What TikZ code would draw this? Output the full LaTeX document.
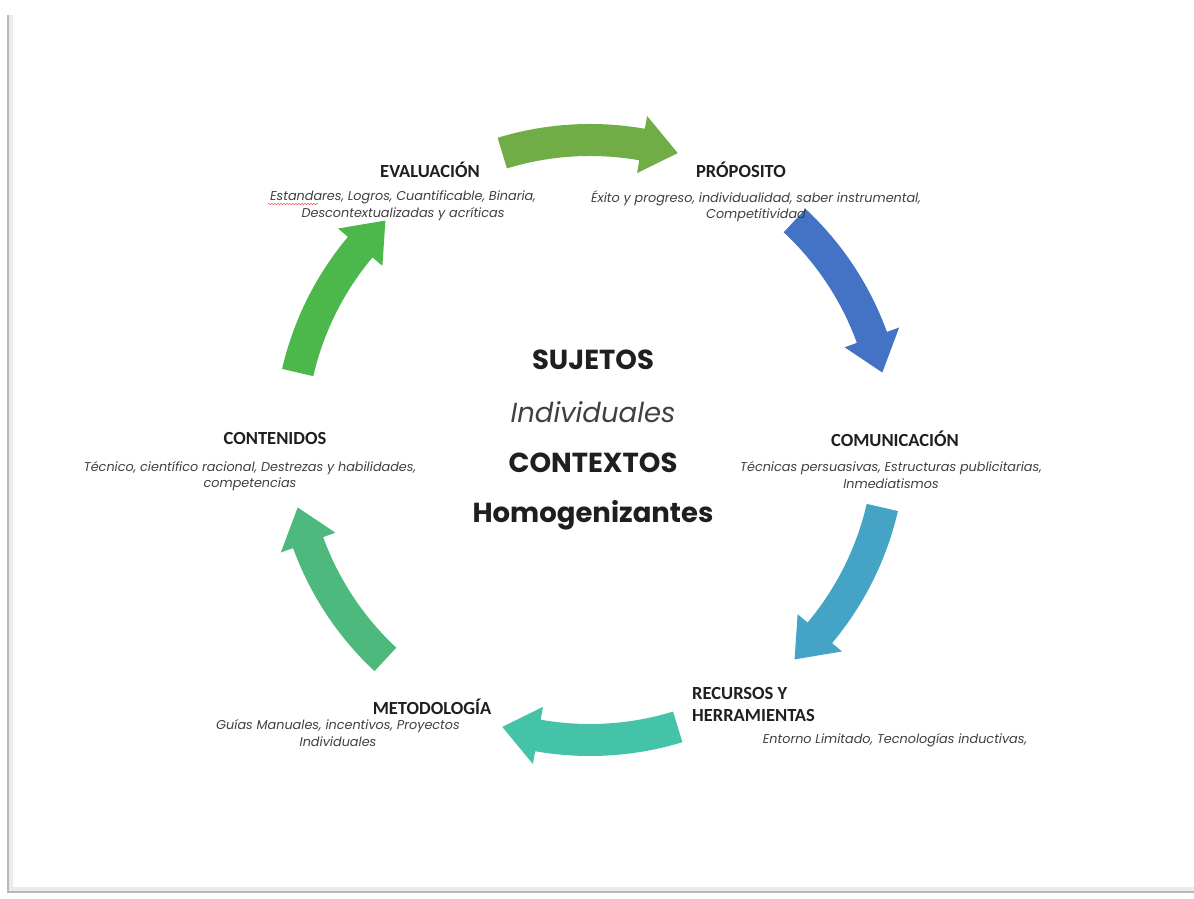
\documentclass[tikz,border=0pt]{standalone}
\usepackage{fontspec}
\setmainfont{Carlito}
\newfontfamily\descfont{Poppins}
\usetikzlibrary{calc,decorations.pathmorphing}

\definecolor{cycgreen}{HTML}{70AD47}
\definecolor{cycblue}{HTML}{4472C4}
\definecolor{cycsky}{HTML}{45A4C6}
\definecolor{cycteal}{HTML}{45C3A8}
\definecolor{cycmint}{HTML}{4DB97C}
\definecolor{cycleaf}{HTML}{4CB84B}
\definecolor{txtgray}{HTML}{404040}

% curved block arrow on the cycle: from angle #1 to angle #2 (clockwise), colour #3
\newcommand{\cycarrow}[3]{%
  \pgfmathsetmacro{\ab}{#2+7}
  \fill[#3] ($(c)+(#1:316pt)$) arc[start angle=#1,end angle=\ab,radius=316pt]
    -- ($(c)+(\ab:329pt)$) -- ($(c)+(#2:300pt)$) -- ($(c)+(\ab:271pt)$)
    -- ($(c)+(\ab:284pt)$) arc[start angle=\ab,end angle=#1,radius=284pt] -- cycle;}

\begin{document}
\begin{tikzpicture}[x=1pt,y=1pt,
	head/.style={font=\bfseries\fontsize{18.5}{22}\selectfont,text=black!88,inner sep=0pt},
	desc/.style={font=\descfont\itshape\fontsize{12.8}{16.5}\selectfont,text=txtgray,align=center,inner sep=0pt},
	centre/.style={font=\descfont\fontsize{27.5}{32}\selectfont,text=black!88,inner sep=0pt}]

	\useasboundingbox[fill=white] (0,0) rectangle (1194,899);
	% page edge
	\draw[black!8, line width=5pt] (10,884) -- (10,9) -- (1194,9);
	\draw[black!28, line width=1.5pt] (8,884) -- (8,7) -- (1194,7);

	\coordinate (c) at (590,459);

	% cycle arrows
	\cycarrow{107}{73}{cycgreen}
	\cycarrow{47}{13}{cycblue}
	\cycarrow{-13}{-47}{cycsky}
	\cycarrow{-73}{-107}{cycteal}
	\cycarrow{-133}{-167}{cycmint}
	\cycarrow{167}{133}{cycleaf}

	% stages
	\node [head] (eval) at (430,729) {EVALUACIÓN};
	\node [desc] (eval-d) at (403,693) {Estandares, Logros, Cuantificable, Binaria,\\Descontextualizadas y acríticas};
	\node [head] (prop) at (741,729) {PRÓPOSITO};
	\node [desc] (prop-d) at (756,693) {Éxito y progreso, individualidad, saber instrumental,\\Competitividad};
	\node [head] (comu) at (895,460) {COMUNICACIÓN};
	\node [desc] (comu-d) at (891,424) {Técnicas persuasivas, Estructuras publicitarias,\\Inmediatismos};
	\node [head] (cont) at (275,460) {CONTENIDOS};
	\node [desc] (cont-d) at (250,423) {Técnico, científico racional, Destrezas y habilidades,\\competencias};
	\node [head] (meto) at (432,192) {METODOLOGÍA};
	\node [desc] (meto-d) at (338,166) {Guías Manuales, incentivos, Proyectos\\Individuales};
	\node [head, anchor=west, align=left] (recu) at (692,194) {RECURSOS Y\\HERRAMIENTAS};
	\node [desc] (recu-d) at (895,159) {Entorno Limitado, Tecnologías inductivas,};

	% spell-check mark
	\draw[red!80, decorate, decoration={snake, amplitude=0.7pt, segment length=3pt}] (268,695) -- (318,695);

	% centre
	\node [centre] (suj) at (593,539) {\bfseries SUJETOS};
	\node [centre, text=black!75] (indi) at (593,487) {\itshape Individuales};
	\node [centre] (ctx) at (593,436) {\bfseries CONTEXTOS};
	\node [centre] (homo) at (593,384) {\bfseries Homogenizantes};

\end{tikzpicture}
\end{document}
